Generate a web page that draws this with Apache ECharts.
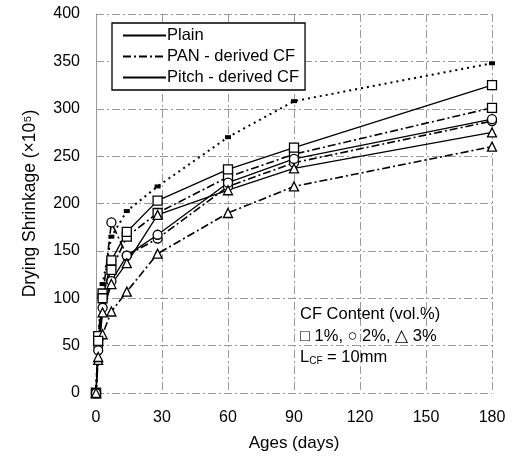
<!DOCTYPE html>
<html>
<head>
<meta charset="utf-8">
<script src="https://cdn.jsdelivr.net/npm/echarts@6/dist/echarts.min.js"></script>
<style>html,body{margin:0;padding:0;background:#fff}#c{width:513px;height:457px}</style>
</head>
<body>
<div id="c"></div>
<script>
const ages = [0, 1, 3, 7, 14, 28, 60, 90, 180];
const plain = [0, 60, 115, 165, 192, 218, 270, 308, 348];
const pan1 = [0, 60, 105, 130, 165, 190, 228, 252, 301];
const pan2 = [0, 50, 100, 180, 145, 163, 218, 243, 287];
const pan3 = [0, 35, 62, 86, 107, 147, 190, 218, 260];
const pitch1 = [0, 55, 100, 140, 170, 203, 236, 259, 325];
const pitch2 = [0, 45, 90, 118, 145, 167, 222, 247, 289];
const pitch3 = [0, 38, 85, 115, 137, 188, 214, 237, 275];
const xTicks = [0, 30, 60, 90, 120, 150, 180];
const yTicks = [0, 50, 100, 150, 200, 250, 300, 350, 400];

const FONT = '"Liberation Sans", Arial, sans-serif';
const pts = v => ages.map((a, i) => [a, v[i]]);
const dashDot = [8, 3, 2, 3];

function mk(name, vals, sym, lineType, width) {
  return {
    type: 'line', name: name, data: pts(vals), symbol: sym, symbolSize: 9,
    showSymbol: true,
    lineStyle: {color: '#000', width: width, type: lineType},
    itemStyle: {color: '#fff', borderColor: '#000', borderWidth: 1.3},
    z: 3
  };
}
function dummy(name, lineType, width) {
  return {type: 'line', name: name, data: [], symbol: 'none',
    lineStyle: {color: '#000', width: width, type: lineType},
    itemStyle: {color: 'rgba(0,0,0,0)', borderWidth: 0}};
}

const chart = echarts.init(document.getElementById('c'), null, {renderer: 'canvas'});
const series = [
  dummy('Plain', 'solid', 1.2),
  dummy('PAN - derived CF', dashDot, 1.3),
  dummy('Pitch - derived CF', 'solid', 1.6),
  {
    type: 'line', name: 'plain-data', data: pts(plain), symbol: 'rect', symbolSize: [6, 4],
    lineStyle: {color: '#000', width: 2, type: [2, 4]},
    itemStyle: {color: '#000'}, z: 3
  },
  mk('pan1', pan1, 'rect', dashDot, 1.6),
  mk('pan2', pan2, 'circle', dashDot, 1.6),
  mk('pan3', pan3, 'triangle', dashDot, 1.6),
  mk('pitch1', pitch1, 'rect', 'solid', 1.3),
  mk('pitch2', pitch2, 'circle', 'solid', 1.3),
  mk('pitch3', pitch3, 'triangle', 'solid', 1.3)
];

chart.setOption({
  animation: false,
  backgroundColor: '#fff',
  grid: {left: 96, right: 21, top: 14, bottom: 62},
  legend: {
    data: ['Plain', 'PAN - derived CF', 'Pitch - derived CF'],
    orient: 'vertical', left: 112, top: 23, width: 199,
    itemWidth: 43, itemHeight: 14, itemGap: 2,
    padding: [3, 6, 3, 10],
    itemStyle: {opacity: 0},
    borderColor: '#000', borderWidth: 1.3, backgroundColor: '#fff',
    textStyle: {fontFamily: FONT, fontSize: 16.5, color: '#000', lineHeight: 19, padding: [0, 0, 0, -4]}
  },
  xAxis: {
    type: 'value', min: 0, max: 180, interval: 30,
    name: 'Ages (days)', nameLocation: 'middle', nameGap: 42,
    nameTextStyle: {fontFamily: FONT, fontSize: 17, color: '#000'},
    axisLine: {show: false}, axisTick: {show: false},
    axisLabel: {fontFamily: FONT, fontSize: 16, color: '#000', margin: 17,
      formatter: v => xTicks.includes(v) ? String(v) : ''},
    splitLine: {show: true, lineStyle: {color: '#999', width: 1, type: dashDot}}
  },
  yAxis: {
    type: 'value', min: 0, max: 400, interval: 50,
    name: 'Drying Shrinkage (\u00d710\u2075)', nameLocation: 'middle', nameGap: 57,
    nameTextStyle: {fontFamily: FONT, fontSize: 17.5, color: '#000'},
    axisLine: {show: true, lineStyle: {color: '#999', width: 1}}, axisTick: {show: false},
    axisLabel: {fontFamily: FONT, fontSize: 16, color: '#000', margin: 16,
      formatter: v => yTicks.includes(v) ? String(v) : ''},
    splitLine: {show: true, lineStyle: {color: '#999', width: 1, type: dashDot}}
  },
  graphic: [
    {type: 'text', left: 300, top: 306, z: 10,
      style: {text: 'CF Content (vol.%)', font: '16.5px ' + FONT, fill: '#000'}},
    {type: 'text', left: 300, top: 328, z: 10,
      style: {text: '\u25a1 1%, \u25cb 2%, \u25b3 3%', font: '16.5px ' + FONT, fill: '#000'}},
    {type: 'text', left: 300, top: 349, z: 10,
      style: {
        text: '{a|L}{b|CF}{a| = 10mm}',
        rich: {
          a: {font: '16.5px ' + FONT, fill: '#000'},
          b: {font: '10px ' + FONT, fill: '#000', padding: [8, 0, 0, 0]}
        }
      }}
  ],
  series: series
});
</script>
</body>
</html>
